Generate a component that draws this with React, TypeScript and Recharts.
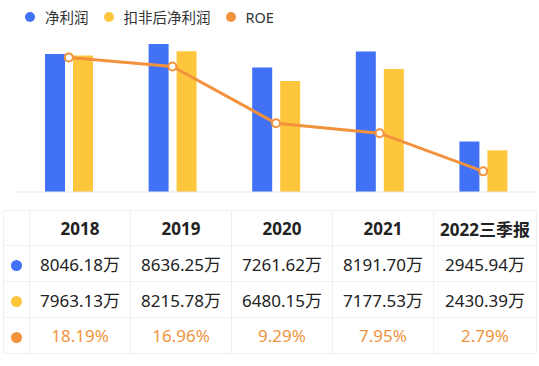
import { ComposedChart, Bar, Line, XAxis, YAxis, Legend } from 'recharts'

const years = ['2018', '2019', '2020', '2021', '2022三季报']
const netProfit = [8046.18, 8636.25, 7261.62, 8191.7, 2945.94]
const deductedProfit = [7963.13, 8215.78, 6480.15, 7177.53, 2430.39]
const roe = [18.19, 16.96, 9.29, 7.95, 2.79]

const seriesNames = ['净利润', '扣非后净利润', 'ROE']
const seriesColors = ['#4172f5', '#fdc63c', '#f2923d']

const FONT = '"Noto Sans", "Noto Sans CJK SC", sans-serif'

const chartData = years.map((year, i) => ({
  year,
  net: netProfit[i],
  deducted: deductedProfit[i],
  roe: roe[i],
}))

const tableRows = [
  { color: seriesColors[0], values: netProfit.map((v) => `${v.toFixed(2)}万`), text: '#222' },
  { color: seriesColors[1], values: deductedProfit.map((v) => `${v.toFixed(2)}万`), text: '#222' },
  { color: seriesColors[2], values: roe.map((v) => `${v.toFixed(2)}%`), text: '#ef9440' },
]

const renderLegend = () => (
  <div style={{ display: 'flex', alignItems: 'center', paddingLeft: 25, fontSize: 14.5, color: '#333' }}>
    {seriesNames.map((name, i) => (
      <div key={name} style={{ display: 'flex', alignItems: 'center', marginRight: 15 }}>
        <span
          style={{
            width: 10,
            height: 10,
            borderRadius: '50%',
            background: seriesColors[i],
            marginRight: 10,
            display: 'inline-block',
          }}
        />
        <span>{name}</span>
      </div>
    ))}
  </div>
)

const cellBorder = '1px solid #f0f0f0'

export default function App() {
  return (
    <div
      style={{
        position: 'absolute',
        left: 0,
        top: 0,
        width: 539,
        height: 366,
        background: '#fff',
        fontFamily: FONT,
      }}
    >
      <ComposedChart
        width={539}
        height={200}
        data={chartData}
        margin={{ top: 44, right: 4, left: 17, bottom: 7 }}
        barSize={20}
        barGap={8}
      >
        <Legend
          verticalAlign="middle"
          align="center"
          layout="horizontal"
          content={renderLegend}
          wrapperStyle={{ top: 6, left: 0, width: 539 }}
        />
        <XAxis dataKey="year" tick={false} tickLine={false} axisLine={{ stroke: '#e6e6e6' }} height={1} />
        <YAxis yAxisId="left" hide domain={[0, 'dataMax']} />
        <YAxis yAxisId="right" orientation="right" hide domain={[0, 20]} />
        <Bar yAxisId="left" dataKey="net" name={seriesNames[0]} fill={seriesColors[0]} isAnimationActive={false} />
        <Bar yAxisId="left" dataKey="deducted" name={seriesNames[1]} fill={seriesColors[1]} isAnimationActive={false} />
        <Line
          yAxisId="right"
          type="linear"
          dataKey="roe"
          name={seriesNames[2]}
          stroke={seriesColors[2]}
          strokeWidth={3}
          dot={{ r: 4, fill: '#fff', stroke: seriesColors[2], strokeWidth: 2 }}
          isAnimationActive={false}
        />
      </ComposedChart>
      <table
        style={{
          position: 'absolute',
          top: 210,
          left: 3,
          borderCollapse: 'collapse',
          tableLayout: 'fixed',
          width: 533,
          fontSize: 17,
          color: '#222',
        }}
      >
        <colgroup>
          <col style={{ width: 26 }} />
          <col style={{ width: 101 }} />
          <col style={{ width: 101 }} />
          <col style={{ width: 101 }} />
          <col style={{ width: 101 }} />
          <col style={{ width: 103 }} />
        </colgroup>
        <tbody>
          <tr style={{ height: 35 }}>
            <td style={{ border: cellBorder }} />
            {years.map((y) => (
              <td key={y} style={{ border: cellBorder, textAlign: 'center', fontWeight: 'bold', padding: 0 }}>
                {y}
              </td>
            ))}
          </tr>
          {tableRows.map((row, r) => (
            <tr key={r} style={{ height: 36 }}>
              <td style={{ border: cellBorder, textAlign: 'center', padding: 0 }}>
                <span
                  style={{
                    display: 'inline-block',
                    width: 11,
                    height: 11,
                    borderRadius: '50%',
                    background: row.color,
                    verticalAlign: 'middle',
                  }}
                />
              </td>
              {row.values.map((v, i) => (
                <td key={i} style={{ border: cellBorder, textAlign: 'center', padding: 0, color: row.text }}>
                  {v}
                </td>
              ))}
            </tr>
          ))}
        </tbody>
      </table>
    </div>
  )
}
